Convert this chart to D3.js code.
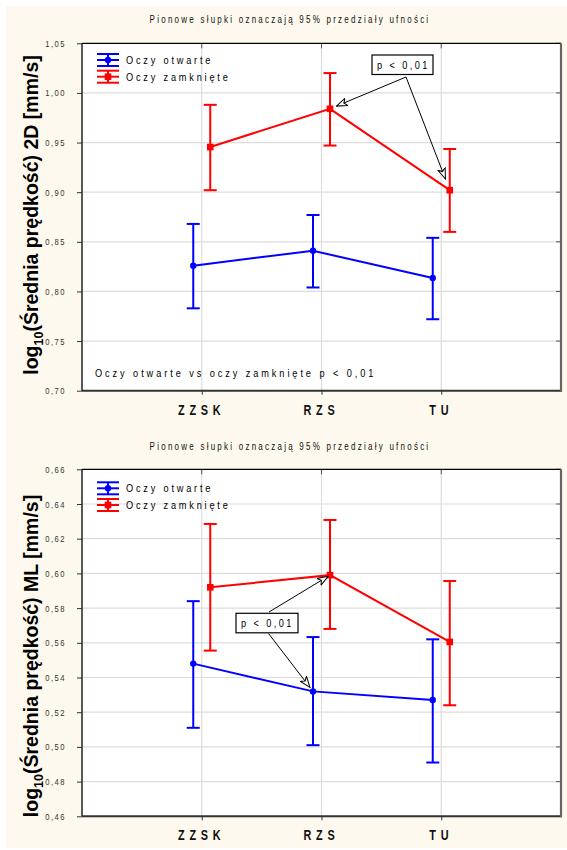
<!DOCTYPE html>
<html><head><meta charset="utf-8">
<script src="https://cdn.jsdelivr.net/npm/d3@7"></script>
<style>
html,body{margin:0;padding:0;background:#fff;}
</style></head>
<body><svg id="c" width="567" height="850"></svg>
<script>
const categories = ["ZZSK","RZS","TU"];
const seriesNames = ["Oczy otwarte","Oczy zamknięte"];
const seriesColors = ["#0000ff","#ff0000"];

// Chart 1: log10(Średnia prędkość) 2D
const top_openMean  = [0.826, 0.841, 0.8135];
const top_openLow   = [0.783, 0.804, 0.772];
const top_openHigh  = [0.868, 0.877, 0.854];
const top_closedMean= [0.9455, 0.984, 0.902];
const top_closedLow = [0.902, 0.947, 0.860];
const top_closedHigh= [0.988, 1.020, 0.9435];
const top_ticks = [0.70,0.75,0.80,0.85,0.90,0.95,1.00,1.05];

// Chart 2: log10(Średnia prędkość) ML
const bot_openMean  = [0.548, 0.532, 0.527];
const bot_openLow   = [0.511, 0.501, 0.491];
const bot_openHigh  = [0.584, 0.5633, 0.562];
const bot_closedMean= [0.592, 0.599, 0.5605];
const bot_closedLow = [0.5555, 0.568, 0.524];
const bot_closedHigh= [0.6285, 0.6308, 0.5956];
const bot_ticks = [0.46,0.48,0.50,0.52,0.54,0.56,0.58,0.60,0.62,0.64,0.66];

const subtitle = "Pionowe słupki oznaczają 95% przedziały ufności";
const annotationText = "p < 0,01";
const topNote = "Oczy otwarte vs oczy zamknięte p < 0,01";

const FONT = "Liberation Sans, Arial, Helvetica, sans-serif";
const svg = d3.select("#c");
svg.append("rect").attr("x",6).attr("y",6).attr("width",561).attr("height",842).attr("fill","#fef9ee");

const defs = svg.append("defs");
defs.append("marker").attr("id","arr").attr("viewBox","0 0 12 10").attr("refX",11).attr("refY",5)
  .attr("markerWidth",12).attr("markerHeight",10).attr("markerUnits","userSpaceOnUse").attr("orient","auto")
  .append("path").attr("d","M0,1 L11,5 L0,9 L3,5 Z").attr("fill","#fff").attr("stroke","#000").attr("stroke-width",1);

const fmt = v => d3.format(".2f")(v).replace(".", ",");

// narrow (horizontally compressed), letter-spaced text
function nt(parent, x, y, str, o){
  const sx = o.sx || 0.8;
  return parent.append("text")
    .attr("transform", `translate(${x},${y}) scale(${sx},1)`)
    .attr("font-family", FONT).attr("font-size", o.size).attr("letter-spacing", o.ls)
    .attr("text-anchor", o.anchor || "start").attr("font-weight", o.weight || "normal")
    .attr("fill", o.fill || "#000").text(str);
}

function drawChart(cfg){
  const g = svg.append("g");
  const L=82, R=561, T=cfg.top, B=cfg.bottom;
  const x = d3.scalePoint().domain(categories).range([L,R]).padding(1);
  const y = d3.scaleLinear().domain(cfg.domain).range([B,T]);

  g.append("rect").attr("x",L).attr("y",T).attr("width",R-L).attr("height",B-T).attr("fill","#fff");

  // title
  nt(g, 290, cfg.titleY, subtitle, {size:10, ls:2.8, anchor:"middle", fill:"#111"});

  // grid
  g.selectAll(".gy").data(cfg.ticks.slice(1,-1)).join("line")
    .attr("x1",L).attr("x2",R).attr("y1",d=>y(d)).attr("y2",d=>y(d)).attr("stroke","#dcdcdc").attr("stroke-width",1.2);
  g.selectAll(".gx").data(categories).join("line")
    .attr("x1",d=>x(d)).attr("x2",d=>x(d)).attr("y1",T).attr("y2",B).attr("stroke","#dcdcdc").attr("stroke-width",1.2);

  // right/top inner ticks
  g.selectAll(".rt").data(cfg.ticks).join("line")
    .attr("x1",R-5).attr("x2",R).attr("y1",d=>y(d)).attr("y2",d=>y(d)).attr("stroke","#555");
  g.selectAll(".tt").data(categories).join("line")
    .attr("x1",d=>x(d)).attr("x2",d=>x(d)).attr("y1",T).attr("y2",T+5).attr("stroke","#555");

  // y axis
  const ya = d3.axisLeft(y).tickValues(cfg.ticks).tickFormat("").tickSize(5);
  const yg = g.append("g").attr("transform",`translate(${L},0)`).call(ya);
  yg.select(".domain").remove();
  yg.selectAll("line").attr("stroke","#333");
  cfg.ticks.forEach(t => nt(g, 66, y(t)+3.5, fmt(t), {size:9.5, ls:1.9, anchor:"end", fill:"#333"}));

  // x axis
  const xa = d3.axisBottom(x).tickSize(4).tickFormat("");
  const xg = g.append("g").attr("transform",`translate(0,${B})`).call(xa);
  xg.select(".domain").remove();
  xg.selectAll("line").attr("stroke","#333");
  categories.forEach(c => nt(g, x(c), B+24, c, {size:14.5, ls:6.3, anchor:"middle", weight:"bold", sx:0.75, fill:"#111"}));

  // frame
  g.append("line").attr("x1",L).attr("x2",R).attr("y1",T).attr("y2",T).attr("stroke","#000").attr("stroke-width",1.2);
  g.append("line").attr("x1",L).attr("x2",L).attr("y1",T).attr("y2",B).attr("stroke","#222").attr("stroke-width",1.5);
  g.append("line").attr("x1",L).attr("x2",R+1).attr("y1",B).attr("y2",B).attr("stroke","#333").attr("stroke-width",2);
  g.append("line").attr("x1",R).attr("x2",R).attr("y1",T).attr("y2",B+1).attr("stroke","#666").attr("stroke-width",2.2);

  // y label
  const yl = g.append("text").attr("transform",`translate(${cfg.ylabX},${cfg.ylabY}) rotate(-90)`)
    .attr("text-anchor","middle").attr("font-family",FONT)
    .attr("font-weight","bold").attr("font-size",19.5).attr("fill","#000");
  yl.append("tspan").text("log");
  yl.append("tspan").attr("font-size",12.5).attr("dy",4.5).text("10");
  yl.append("tspan").attr("dy",-4.5).text("(Średnia prędkość) " + cfg.ylabTag + " [mm/s]");

  // series
  const series = [
    {mean:cfg.openMean, low:cfg.openLow, high:cfg.openHigh, color:seriesColors[0], off:-8.5, shape:"circle"},
    {mean:cfg.closedMean, low:cfg.closedLow, high:cfg.closedHigh, color:seriesColors[1], off:8.5, shape:"square"}
  ];
  series.forEach(s=>{
    const px = (i)=> x(categories[i]) + s.off;
    const line = d3.line().x((d,i)=>px(i)).y(d=>y(d));
    g.append("path").attr("d",line(s.mean)).attr("fill","none").attr("stroke",s.color).attr("stroke-width",2);
    categories.forEach((c,i)=>{
      const xx = px(i);
      g.append("line").attr("x1",xx).attr("x2",xx).attr("y1",y(s.low[i])).attr("y2",y(s.high[i])).attr("stroke",s.color).attr("stroke-width",2);
      [s.low[i], s.high[i]].forEach(v=>{
        g.append("line").attr("x1",xx-6.5).attr("x2",xx+6.5).attr("y1",y(v)).attr("y2",y(v)).attr("stroke",s.color).attr("stroke-width",2);
      });
      if (s.shape==="circle") g.append("circle").attr("cx",xx).attr("cy",y(s.mean[i])).attr("r",3.2).attr("fill",s.color);
      else g.append("rect").attr("x",xx-3.3).attr("y",y(s.mean[i])-3.3).attr("width",6.6).attr("height",6.6).attr("fill",s.color);
    });
  });

  // legend
  series.forEach((s,k)=>{
    const cy = cfg.legY + k*16.7, x0=97, x1=119, xm=108;
    g.append("line").attr("x1",x0).attr("x2",x1).attr("y1",cy).attr("y2",cy).attr("stroke",s.color).attr("stroke-width",2);
    g.append("line").attr("x1",x0).attr("x2",x1).attr("y1",cy-6).attr("y2",cy-6).attr("stroke",s.color).attr("stroke-width",2);
    g.append("line").attr("x1",x0).attr("x2",x1).attr("y1",cy+6).attr("y2",cy+6).attr("stroke",s.color).attr("stroke-width",2);
    g.append("line").attr("x1",xm).attr("x2",xm).attr("y1",cy-6).attr("y2",cy+6).attr("stroke",s.color).attr("stroke-width",2);
    if (s.shape==="circle") g.append("circle").attr("cx",xm).attr("cy",cy).attr("r",3.2).attr("fill",s.color);
    else g.append("rect").attr("x",xm-3.3).attr("y",cy-3.3).attr("width",6.6).attr("height",6.6).attr("fill",s.color);
    nt(g, 126, cy+4, seriesNames[k], {size:11.5, ls:3.5});
  });

  // annotation
  const a = cfg.ann;
  g.append("rect").attr("x",a.bx).attr("y",a.by).attr("width",a.bw).attr("height",a.bh)
    .attr("fill","#fff").attr("stroke","#000").attr("stroke-width",1.2);
  nt(g, a.bx+5, a.by+a.bh/2+4.2, annotationText, {size:11.5, ls:3.0});
  a.arrows.forEach(ar=>{
    const s = series[ar.series];
    const tx = x(categories[ar.cat]) + s.off, ty = y(s.mean[ar.cat]);
    const dx = tx-ar.fx, dy = ty-ar.fy, len = Math.hypot(dx,dy);
    const ex = tx - dx/len*ar.gap, ey = ty - dy/len*ar.gap;
    g.append("line").attr("x1",ar.fx).attr("y1",ar.fy).attr("x2",ex).attr("y2",ey)
      .attr("stroke","#000").attr("stroke-width",1).attr("marker-end","url(#arr)");
  });
  if (cfg.note) nt(g, 95, cfg.noteY, cfg.note, {size:11.5, ls:3.65});
}

drawChart({top:43.3, bottom:390.7, domain:[0.70,1.05], ticks:top_ticks, titleY:23,
  openMean:top_openMean, openLow:top_openLow, openHigh:top_openHigh,
  closedMean:top_closedMean, closedLow:top_closedLow, closedHigh:top_closedHigh,
  ylabX:38, ylabY:215, ylabTag:"2D", legY:60,
  ann:{bx:372, by:55, bw:61, bh:19.5, arrows:[
    {fx:406, fy:77, series:1, cat:1, gap:7},
    {fx:406, fy:77, series:1, cat:2, gap:12}]},
  note:topNote, noteY:377});

drawChart({top:469.3, bottom:816.3, domain:[0.46,0.66], ticks:bot_ticks, titleY:450,
  openMean:bot_openMean, openLow:bot_openLow, openHigh:bot_openHigh,
  closedMean:bot_closedMean, closedLow:bot_closedLow, closedHigh:bot_closedHigh,
  ylabX:38, ylabY:656, ylabTag:"ML", legY:488.3,
  ann:{bx:236, by:613.3, bw:62, bh:19.5, arrows:[
    {fx:269, fy:612, series:1, cat:1, gap:2},
    {fx:268.5, fy:633.5, series:0, cat:1, gap:5}]},
  note:null});
</script></body></html>
